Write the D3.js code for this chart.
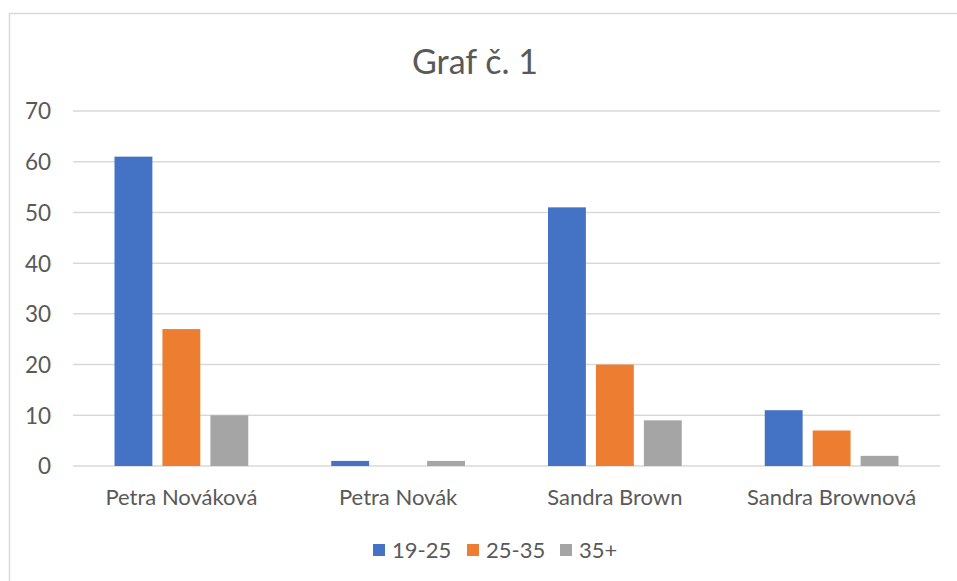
<!DOCTYPE html>
<html><head><meta charset="utf-8">
<script src="https://cdn.jsdelivr.net/npm/d3@7"></script>
<style>html,body{margin:0;padding:0;background:#fff;}svg{display:block;}</style>
</head><body>
<svg id="c" width="957" height="581"></svg>
<script>
const categories = ["Petra Nováková", "Petra Novák", "Sandra Brown", "Sandra Brownová"];
const seriesNames = ["19-25", "25-35", "35+"];
const values19_25 = [61, 1, 51, 11];
const values25_35 = [27, 0, 20, 7];
const values35plus = [10, 1, 9, 2];
const yTicks = [0, 10, 20, 30, 40, 50, 60, 70];
const colors = ["#4472C4", "#ED7D31", "#A5A5A5"];
const title = "Graf č. 1";

const seriesValues = [values19_25, values25_35, values35plus];
const font = "Lato, 'Open Sans', sans-serif";
const textColor = "#595959";

const svg = d3.select("#c");
svg.append("rect").attr("x", 9.5).attr("y", 13.5).attr("width", 1000).attr("height", 700)
  .attr("fill", "#fff").attr("stroke", "#d9d9d9").attr("stroke-width", 1.5);

const plotLeft = 73, plotRight = 940, plotTop = 111, plotBottom = 466;
const x0 = d3.scaleBand().domain(categories).range([plotLeft, plotRight]).padding(0);
const x1 = d3.scaleBand().domain(seriesNames).range([41.5, x0.bandwidth() - 41.5]).paddingInner(0.21).paddingOuter(0);
const y = d3.scaleLinear().domain([0, 70]).range([plotBottom, plotTop]);

// gridlines
svg.append("g").selectAll("line").data(yTicks).join("line")
  .attr("x1", plotLeft).attr("x2", plotRight)
  .attr("y1", d => y(d)).attr("y2", d => y(d))
  .attr("stroke", "#d9d9d9").attr("stroke-width", 1.5);

// y axis labels
const yAxis = d3.axisLeft(y).tickValues(yTicks).tickSize(0).tickPadding(0);
const ga = svg.append("g").attr("transform", `translate(51,0)`).call(yAxis);
ga.select(".domain").remove();
ga.selectAll("text").attr("font-family", font).attr("font-size", 22.5).attr("fill", textColor).attr("dy", "0.35em");

// bars
const groups = svg.append("g").selectAll("g").data(categories).join("g")
  .attr("transform", d => `translate(${x0(d)},0)`);
groups.selectAll("rect").data((c, i) => seriesNames.map((s, j) => ({s, v: seriesValues[j][i], j})))
  .join("rect")
  .attr("x", d => x1(d.s)).attr("width", x1.bandwidth())
  .attr("y", d => y(d.v)).attr("height", d => y(0) - y(d.v))
  .attr("fill", d => colors[d.j]);

// x axis labels
const xAxis = d3.axisBottom(x0).tickSize(0).tickPadding(0);
const gx = svg.append("g").attr("transform", `translate(0,497)`).call(xAxis);
gx.select(".domain").remove();
gx.selectAll("text").attr("font-family", font).attr("font-size", 22).attr("fill", textColor).attr("dy", "0.35em");

// title
svg.append("text").attr("x", 475).attr("y", 62).attr("dy", "0.35em").attr("text-anchor", "middle")
  .attr("font-family", font).attr("font-size", 34).attr("fill", textColor).text(title);

// legend
const legendX = [373, 467, 560];
const lg = svg.append("g").selectAll("g").data(seriesNames).join("g")
  .attr("transform", (d, i) => `translate(${legendX[i]},550)`);
lg.append("rect").attr("x", 0).attr("y", -6).attr("width", 12).attr("height", 12).attr("fill", (d, i) => colors[i]);
lg.append("text").attr("x", 19).attr("dy", "0.35em").attr("font-family", font).attr("font-size", 22)
  .attr("fill", textColor).text(d => d);
</script>
</body></html>
